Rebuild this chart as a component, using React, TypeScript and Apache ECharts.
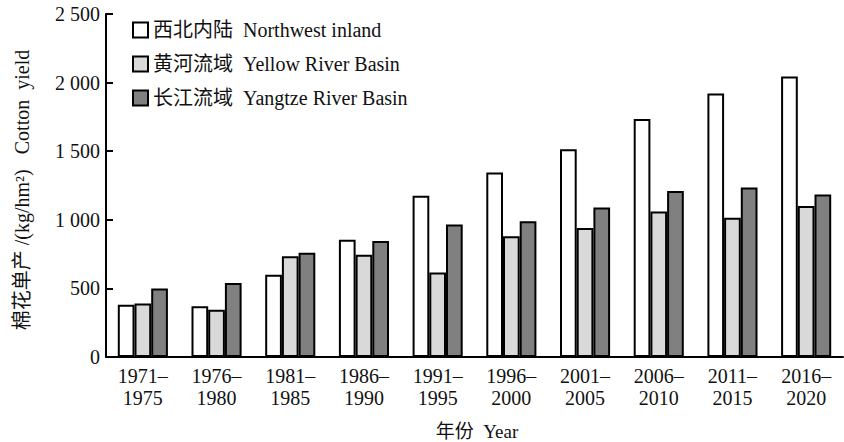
import React, { useEffect, useRef } from "react";
import * as echarts from "echarts";

const categories = [
  "1971–\n1975",
  "1976–\n1980",
  "1981–\n1985",
  "1986–\n1990",
  "1991–\n1995",
  "1996–\n2000",
  "2001–\n2005",
  "2006–\n2010",
  "2011–\n2015",
  "2016–\n2020",
];
const seriesNames = [
  "西北内陆  Northwest inland",
  "黄河流域  Yellow River Basin",
  "长江流域  Yangtze River Basin",
];
const northwest = [380, 370, 600, 855, 1175, 1345, 1515, 1735, 1920, 2045];
const yellowRiver = [390, 345, 735, 745, 615, 880, 940, 1060, 1015, 1100];
const yangtze = [500, 540, 760, 845, 965, 990, 1090, 1210, 1235, 1185];
const yTicks = [0, 500, 1000, 1500, 2000, 2500];
const yAxisTitle = "棉花单产 /(kg/hm²)   Cotton  yield";
const xAxisTitle = "年份  Year";

const FONT = "'Liberation Serif', 'Times New Roman', 'Noto Sans CJK SC', serif";
const fills = ["#ffffff", "#d9d9d9", "#808080"];

function fmt(v: number) {
  if (v >= 1000) {
    return `${Math.floor(v / 1000)} ${String(v % 1000).padStart(3, "0")}`;
  }
  return String(v);
}

export default function App() {
  const ref = useRef<HTMLDivElement>(null);
  useEffect(() => {
    if (!ref.current) return;
    const chart = echarts.init(ref.current, null, { renderer: "svg" });
    const data = [northwest, yellowRiver, yangtze];
    chart.setOption({
      animation: false,
      backgroundColor: "#ffffff",
      textStyle: { fontFamily: FONT },
      grid: { left: 106, right: 1, top: 14, bottom: 85 },
      legend: {
        orient: "vertical",
        left: 132,
        top: 20,
        padding: 0,
        icon: "rect",
        itemWidth: 15,
        itemHeight: 15,
        itemGap: 14,
        data: seriesNames,
        textStyle: { fontFamily: FONT, fontSize: 20, color: "#111", lineHeight: 20 },
      },
      xAxis: {
        type: "category",
        data: categories,
        axisLine: { lineStyle: { color: "#000", width: 2 } },
        axisTick: { inside: true, length: 8, lineStyle: { color: "#000", width: 2 } },
        axisLabel: {
          color: "#111",
          fontSize: 20,
          fontFamily: FONT,
          lineHeight: 22,
          margin: 8,
          interval: 0,
        },
      },
      yAxis: {
        type: "value",
        min: 0,
        max: yTicks[yTicks.length - 1],
        interval: 500,
        splitLine: { show: false },
        axisLine: { show: true, lineStyle: { color: "#000", width: 2 } },
        axisTick: { show: true, inside: true, length: 7, lineStyle: { color: "#000", width: 2 } },
        axisLabel: {
          color: "#111",
          fontSize: 20,
          fontFamily: FONT,
          margin: 6,
          formatter: (v: number) => fmt(v),
        },
      },
      graphic: [
        {
          type: "text",
          x: 22,
          y: 190,
          rotation: Math.PI / 2,
          style: {
            text: yAxisTitle,
            fontSize: 20,
            fontFamily: FONT,
            fill: "#111",
            textAlign: "center",
            textVerticalAlign: "middle",
          },
        },
        {
          type: "text",
          x: 477,
          y: 431,
          style: {
            text: xAxisTitle,
            fontSize: 19,
            fontFamily: FONT,
            fill: "#111",
            textAlign: "center",
            textVerticalAlign: "middle",
          },
        },
      ],
      series: seriesNames.map((name, i) => ({
        name,
        type: "bar",
        data: data[i],
        barWidth: 16.7,
        barGap: "0%",
        itemStyle: { color: fills[i], borderColor: "#000", borderWidth: 2 },
      })),
    });
    return () => chart.dispose();
  }, []);
  return <div ref={ref} style={{ width: 844, height: 442, position: "absolute", left: 0, top: 0 }} />;
}
